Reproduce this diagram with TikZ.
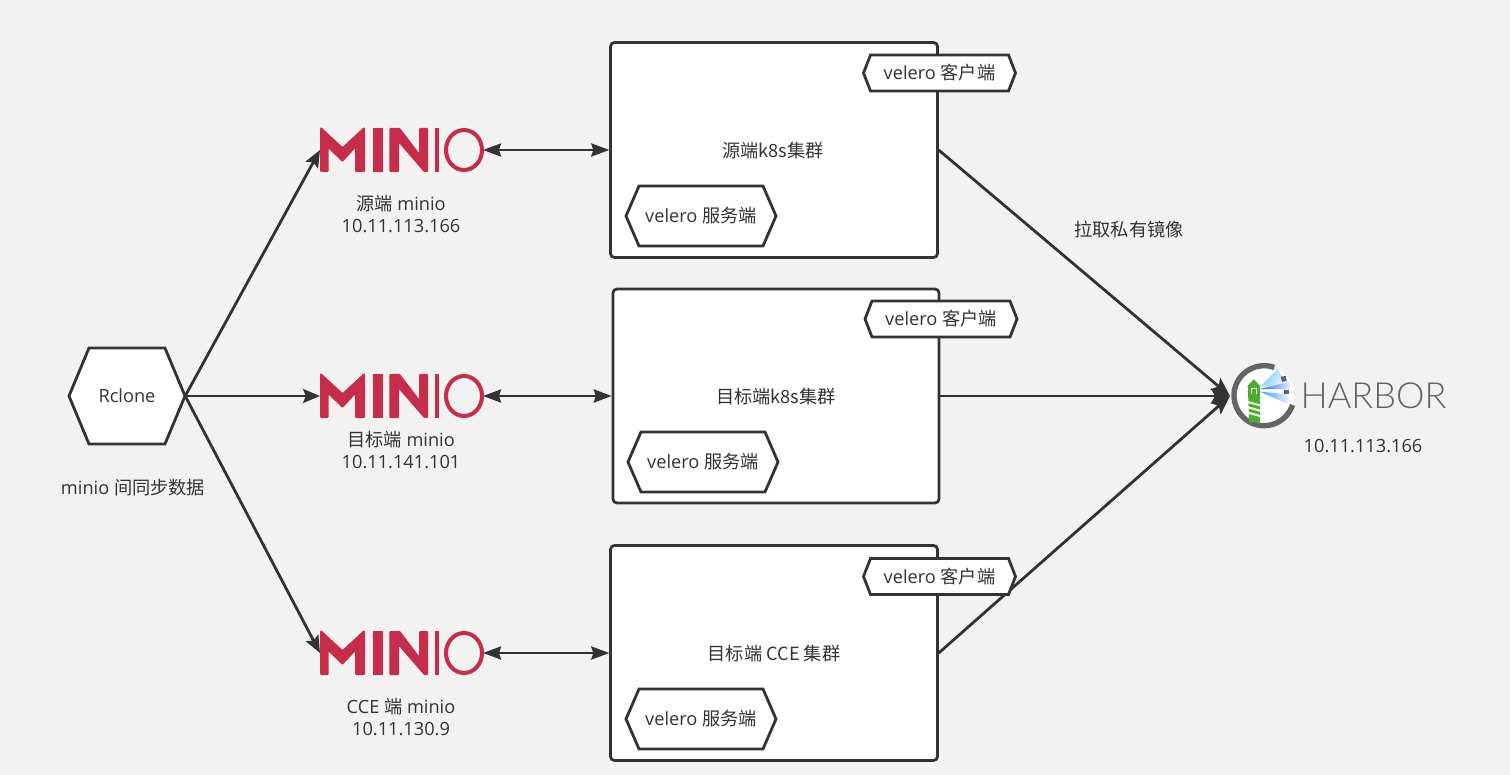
\documentclass[tikz,border=0pt]{standalone}
\usepackage{fontspec}
\setmainfont{Open Sans}
\newfontfamily\cjk{Noto Sans CJK SC}
\newfontfamily\harborfont{Lato Light}
\usetikzlibrary{arrows.meta}
\definecolor{bgc}{HTML}{F2F2F2}
\definecolor{ink}{HTML}{333333}
\definecolor{miniored}{HTML}{C72C48}
\definecolor{harbgray}{HTML}{666364}
\definecolor{harbgreen}{HTML}{4EAE2C}
\tikzset{
  x=1pt,y=-1pt,
  lbl/.style={text=ink,font=\fontsize{18.2}{22}\selectfont,align=center,inner sep=0pt},
  cluster/.style={draw=ink,fill=white,line width=2.8pt,rounded corners=4pt,inner sep=0pt,outer sep=1.2pt},
  hexline/.style={draw=ink,fill=white,line width=2.8pt,line join=miter},
  logo/.style={inner sep=0pt,minimum width=163pt,minimum height=44pt,outer sep=0pt},
  link/.style={draw=ink,line width=2.8pt,-{Stealth[length=17pt,width=14pt,inset=3pt]}},
  dlink/.style={draw=ink,line width=2.8pt,{Stealth[length=18pt,width=13pt,inset=2pt]}-{Stealth[length=18pt,width=13pt,inset=2pt]}},
  pull/.style={draw=ink,line width=2.8pt,-{Stealth[length=19pt,width=15pt,inset=4pt]}},
}
% name, cx, cy, half width, half height, inset, text
\newcommand{\hexnode}[7]{%
  \path[hexline] (#2-#4,#3) -- (#2-#4+#6,#3-#5) -- (#2+#4-#6,#3-#5) -- (#2+#4,#3)
     -- (#2+#4-#6,#3+#5) -- (#2-#4+#6,#3+#5) -- cycle;
  \node[lbl,minimum width=2*#4 pt,minimum height=2*#5 pt] (#1) at (#2,#3) {#7};
}
\newcommand{\miniologo}[3]{%
  \node[logo] (#1) at (#2,#3) {};
  \begin{scope}[shift={(#2-81.5,#3-22)},fill=miniored]
    \fill[rounded corners=1pt] (0,44) -- (0,-0.5) -- (1.5,-0.5) -- (22.5,19) -- (43.5,-0.5) -- (45,-0.5) -- (45,44) -- (35,44) -- (35,20.5) -- (22.5,34) -- (8.5,20.5) -- (8.5,44) -- cycle;
    \fill (52.7,0) rectangle (63.3,44);
    \fill[rounded corners=1pt] (69.3,44) -- (69.3,0) -- (80,0) -- (99,25) -- (99,0) -- (108,0) -- (108,44) -- (104,44) -- (79,15) -- (79,44) -- cycle;
    \fill (115,0) rectangle (119,44);
    \draw[miniored,line width=4pt] (144,22) ellipse [x radius=18, y radius=20];
  \end{scope}
}
\begin{document}
\begin{tikzpicture}
\path[use as bounding box,fill=bgc] (0,0) rectangle (1510,775);

% clusters
\node[cluster,minimum width=327pt,minimum height=215pt] (b1) at (774,150) {};
\node[cluster,minimum width=326pt,minimum height=214pt] (b2) at (776,396) {};
\node[cluster,minimum width=327pt,minimum height=215pt] (b3) at (774,653) {};
\node[lbl] (t1) at (773,151) {\cjk 源端k8s集群};
\node[lbl] (t2) at (776,397) {\cjk 目标端k8s集群};
\node[lbl] (t3) at (774,653.5) {\cjk 目标端 CCE 集群};

% logos
\miniologo{m1}{401.5}{150}
\miniologo{m2}{401.5}{396}
\miniologo{m3}{401.5}{653}

% harbor logo
\node[inner sep=0pt,minimum width=66pt,minimum height=66pt] (hb) at (1264,396) {};
\begin{scope}[shift={(1210,345)},scale=1/3]
  \fill[white] (162,152) circle[radius=90];
  \shade[left color=blue!35!cyan!70!white,right color=blue!5!white,shading angle=60,opacity=.8] (150,125) -- (203,72) -- (232,118) -- cycle;
  \shade[left color=blue!65!cyan!90!white,right color=blue!8!white] (150,132) -- (238,110) -- (240,133) -- cycle;
  \shade[left color=blue!45!cyan!80!white,right color=blue!5!white] (150,140) -- (238,148) -- (234,178) -- cycle;
  \draw[harbgray,line width=5.4pt] (162,152) ++(-70:90) arc[start angle=-70,end angle=-342,radius=90];
  \fill[harbgray] (212,95) -- (227,93) -- (230,108) -- (216,111) -- cycle;
  \fill[harbgray] (222,134) rectangle (238,148);
  \fill[harbgreen] (113,122) -- (131,103) -- (150,122) -- (150,232) -- (118,232) -- cycle;
  \fill[white] (122,130) rectangle (126,148);
  \fill[white] (137,130) rectangle (141,148);
  \fill[white] (122,128) rectangle (141,132);
  \foreach \yy in {168,184,200}
    \fill[white] (114,\yy) -- (150,\yy+10) -- (150,\yy+16) -- (114,\yy+6) -- cycle;
\end{scope}
\node[inner sep=0pt,text=harbgray,font=\harborfont\fontsize{36}{36}\selectfont] (hbt) at (1373.5,396) {HARBOR};
\coordinate (hbw) at (1230,396);

% connectors
\hexnode{rc}{127}{396}{58}{48}{20}{Rclone}
\draw[link] (rc.east) -- (m1.west);
\draw[link] (rc.east) -- (m2.west);
\draw[link] (rc.east) -- (m3.west);
\draw[dlink] (m1.east) -- (b1.west);
\draw[dlink] (m2.east) -- (b2.west);
\draw[dlink] (m3.east) -- (b3.west);
\draw[pull] (b1.east) -- (hbw);
\draw[pull] (b2.east) -- (hbw);
\draw[pull] (b3.east) -- (hbw);

% hexagons in clusters
\hexnode{s1}{701}{216}{75}{30}{13}{velero {\cjk 服务端}}
\hexnode{s2}{703}{462}{75}{30}{13}{velero {\cjk 服务端}}
\hexnode{s3}{701}{719}{75}{30}{13}{velero {\cjk 服务端}}
\hexnode{c1}{939.5}{73}{76}{18}{7}{velero {\cjk 客户端}}
\hexnode{c2}{941}{319}{76}{18}{7}{velero {\cjk 客户端}}
\hexnode{c3}{939.5}{576.5}{76}{18}{7}{velero {\cjk 客户端}}

% free labels
\node[lbl] (l1) at (401,214) {{\cjk 源端} minio\\10.11.113.166};
\node[lbl] (l2) at (401,450) {{\cjk 目标端} minio\\10.11.141.101};
\node[lbl] (l3) at (401,717) {CCE {\cjk 端} minio\\10.11.130.9};
\node[lbl] (l4) at (133,488) {minio {\cjk 间同步数据}};
\node[lbl] (l5) at (1129,230) {\cjk 拉取私有镜像};
\node[lbl] (l6) at (1363,446) {10.11.113.166};
\end{tikzpicture}
\end{document}
